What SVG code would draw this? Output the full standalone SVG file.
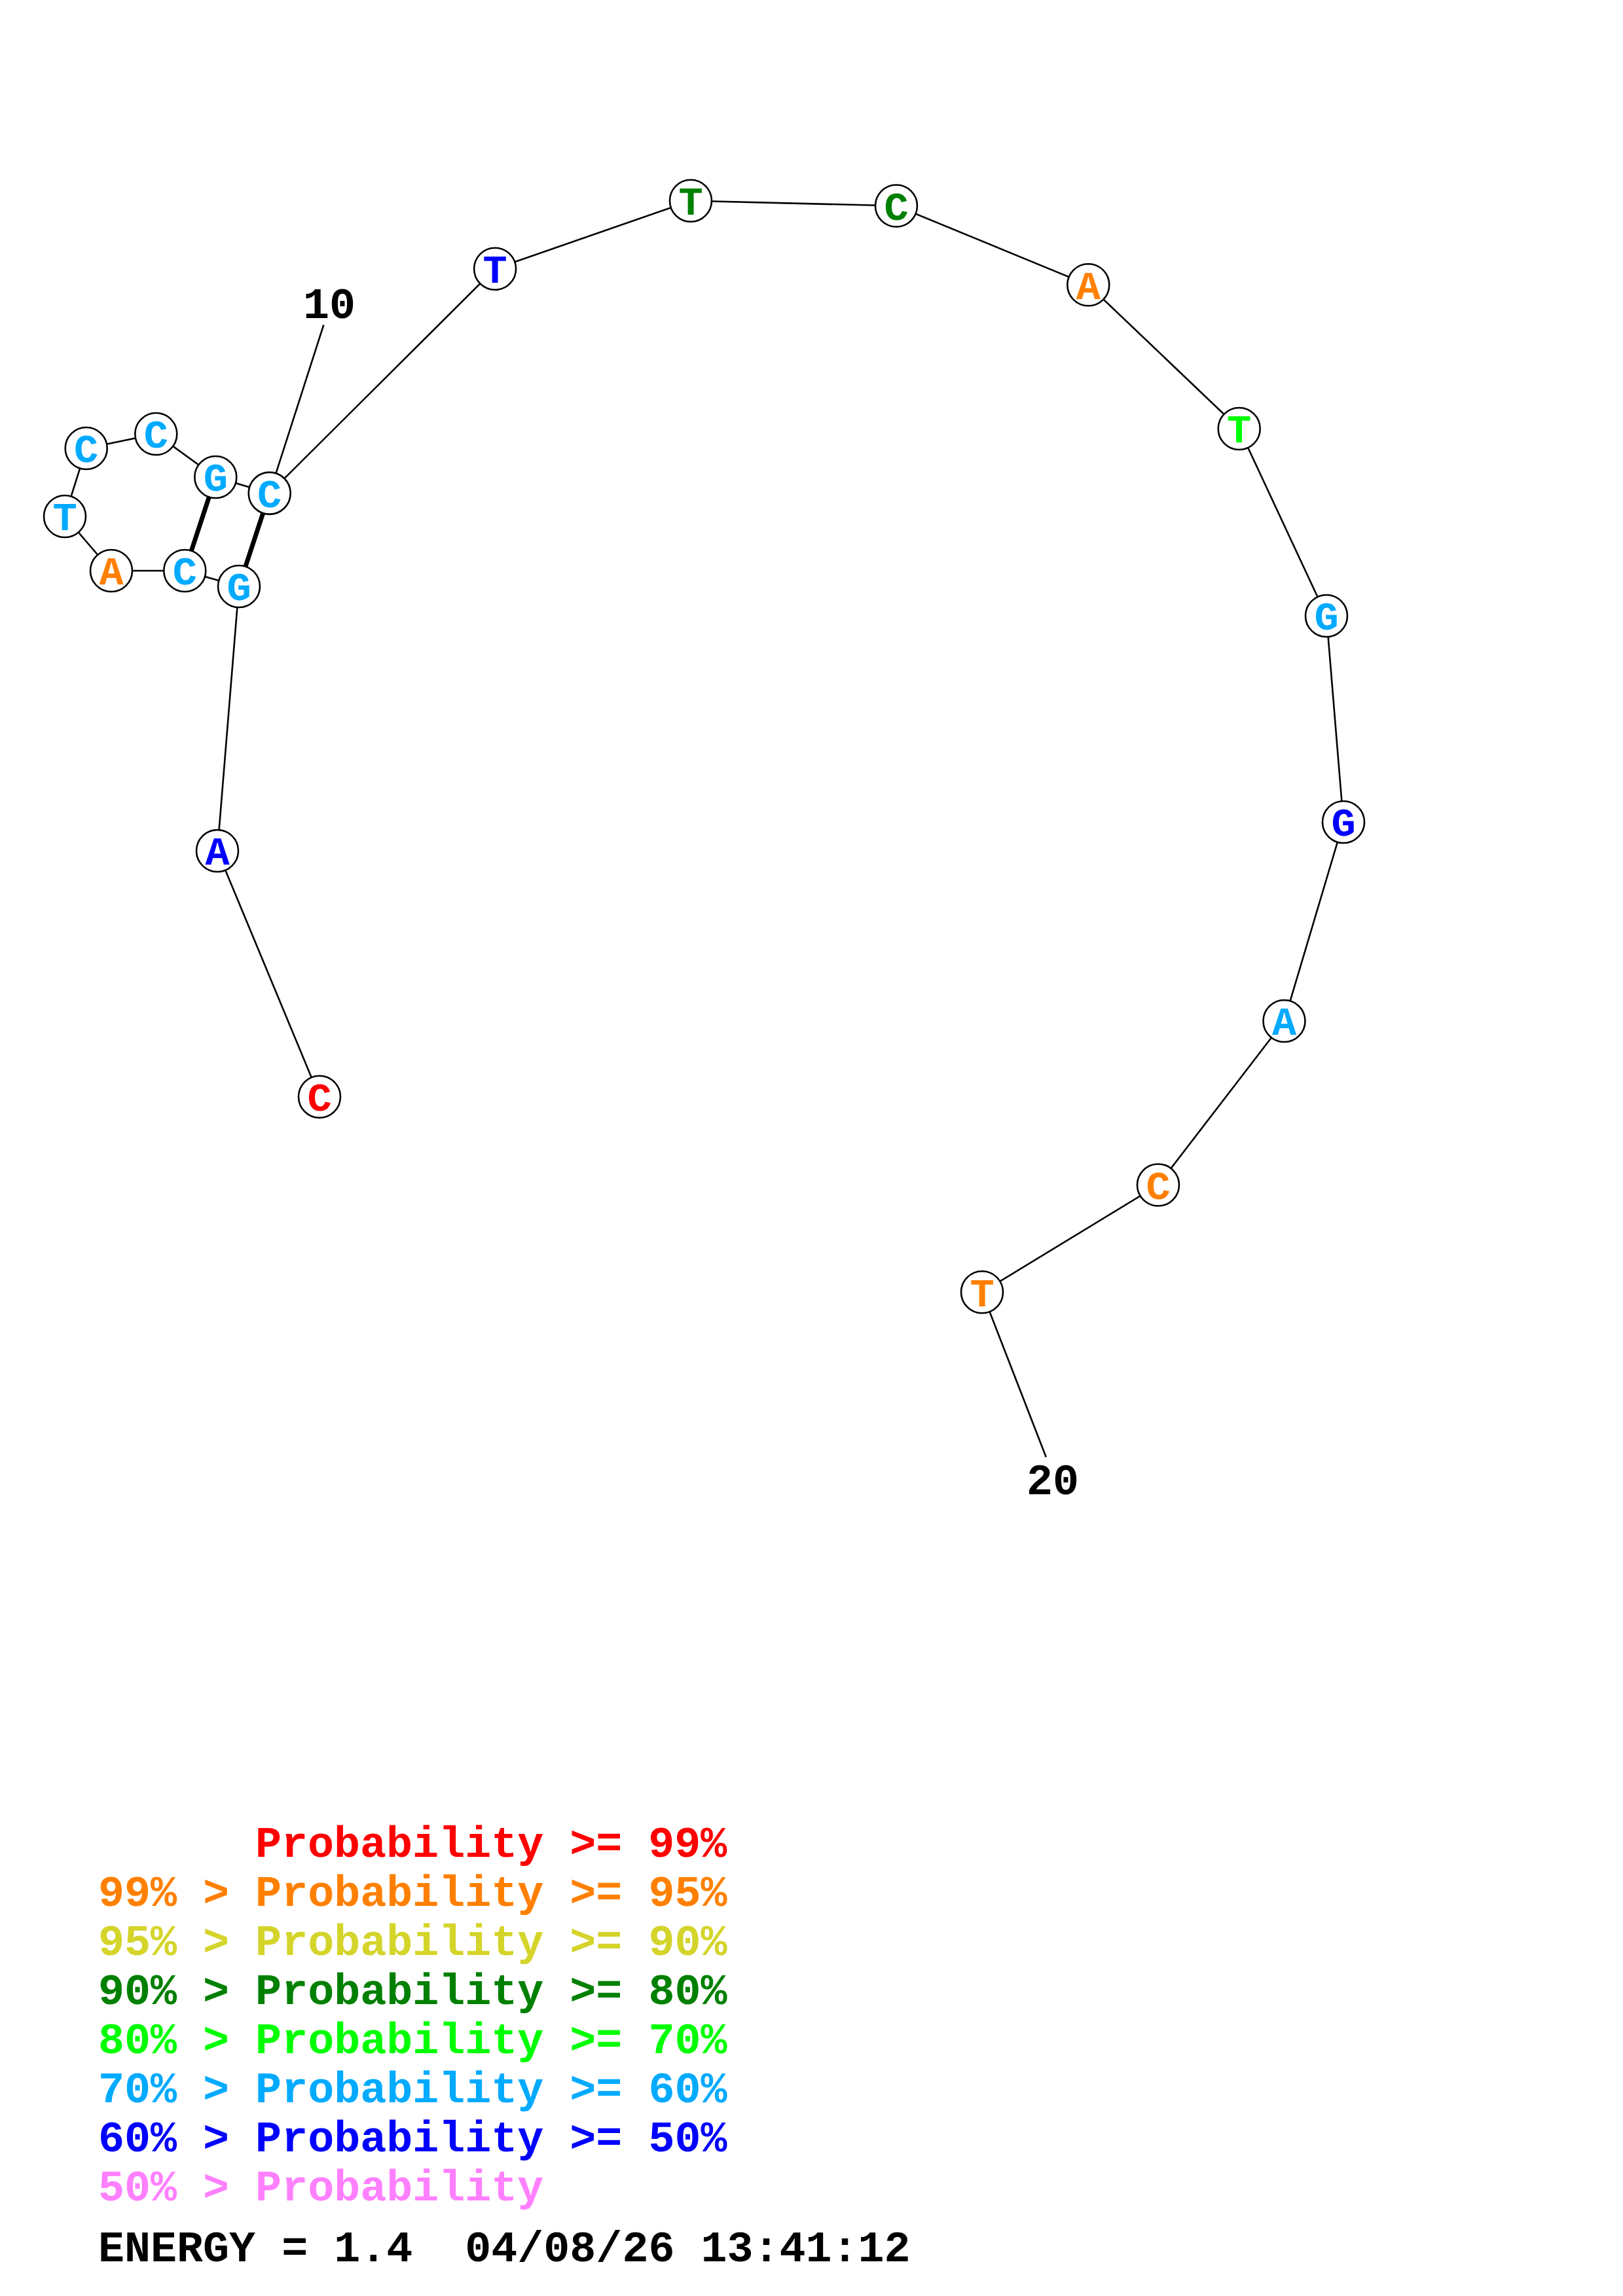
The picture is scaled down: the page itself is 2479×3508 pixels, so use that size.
<svg xmlns="http://www.w3.org/2000/svg" width="2479" height="3508" viewBox="0 0 2479 3508">
<style>
.bg{fill:#ffffff}
.ln{stroke:#000;stroke-width:2.6;fill:none}
.pair{stroke:#000;stroke-width:7;fill:none}
.nd circle{fill:#fff;stroke:#000;stroke-width:2.6}
.nd text{font-family:"Liberation Mono","Courier New",monospace;font-weight:bold;font-size:62px;text-anchor:middle}
.lbl{font-family:"Liberation Mono","Courier New",monospace;font-weight:bold;font-size:66.7px;fill:#000;text-anchor:middle}
.lg{font-family:"Liberation Mono","Courier New",monospace;font-weight:bold;font-size:66.7px}
.c99{fill:#ff0000}.c95{fill:#ff8000}.c90{fill:#d4d42a}.c80{fill:#008000}.c70{fill:#00ff00}.c60{fill:#00aaff}.c50{fill:#0000ff}.c0{fill:#ff80ff}
</style>
<rect class="bg" x="0" y="0" width="2479" height="3508"/>
<g id="connectors">
<polyline class="ln" points="488,1675.7 332,1300 365,896 282.3,872 170,872 99,789 131.7,685 238.3,663 329.3,729 411.7,753.6 756.1,410.7 1055,306.7 1369,314.5 1662.3,435.3 1892.7,655 2026,941 2052,1256 1961.5,1560 1769,1810.5 1500,1974.3"/>
<line class="pair" x1="329.3" y1="729" x2="282.3" y2="872"/>
<line class="pair" x1="411.7" y1="753.6" x2="365" y2="896"/>
<line class="ln" x1="494.3" y1="496.5" x2="411.7" y2="753.6"/>
<line class="ln" x1="1500" y1="1974.3" x2="1597.8" y2="2226.2"/>
</g>
<g id="n1" class="nd"><circle cx="488" cy="1675.7" r="32"/><text x="488" y="1697" class="c99">C</text></g>
<g id="n2" class="nd"><circle cx="332" cy="1300" r="32"/><text x="332" y="1321" class="c50">A</text></g>
<g id="n3" class="nd"><circle cx="365" cy="896" r="32"/><text x="365" y="917" class="c60">G</text></g>
<g id="n4" class="nd"><circle cx="282.3" cy="872" r="32"/><text x="282.3" y="893" class="c60">C</text></g>
<g id="n5" class="nd"><circle cx="170" cy="872" r="32"/><text x="170" y="893" class="c95">A</text></g>
<g id="n6" class="nd"><circle cx="99" cy="789" r="32"/><text x="99" y="810" class="c60">T</text></g>
<g id="n7" class="nd"><circle cx="131.7" cy="685" r="32"/><text x="131.7" y="706" class="c60">C</text></g>
<g id="n8" class="nd"><circle cx="238.3" cy="663" r="32"/><text x="238.3" y="684" class="c60">C</text></g>
<g id="n9" class="nd"><circle cx="329.3" cy="729" r="32"/><text x="329.3" y="750" class="c60">G</text></g>
<g id="n10" class="nd"><circle cx="411.7" cy="753.6" r="32"/><text x="411.7" y="775" class="c60">C</text></g>
<g id="n11" class="nd"><circle cx="756.1" cy="410.7" r="32"/><text x="756.1" y="432" class="c50">T</text></g>
<g id="n12" class="nd"><circle cx="1055" cy="306.7" r="32"/><text x="1055" y="328" class="c80">T</text></g>
<g id="n13" class="nd"><circle cx="1369" cy="314.5" r="32"/><text x="1369" y="336" class="c80">C</text></g>
<g id="n14" class="nd"><circle cx="1662.3" cy="435.3" r="32"/><text x="1662.3" y="457" class="c95">A</text></g>
<g id="n15" class="nd"><circle cx="1892.7" cy="655" r="32"/><text x="1892.7" y="676" class="c70">T</text></g>
<g id="n16" class="nd"><circle cx="2026" cy="941" r="32"/><text x="2026" y="962" class="c60">G</text></g>
<g id="n17" class="nd"><circle cx="2052" cy="1256" r="32"/><text x="2052" y="1277" class="c50">G</text></g>
<g id="n18" class="nd"><circle cx="1961.5" cy="1560" r="32"/><text x="1961.5" y="1581" class="c60">A</text></g>
<g id="n19" class="nd"><circle cx="1769" cy="1810.5" r="32"/><text x="1769" y="1832" class="c95">C</text></g>
<g id="n20" class="nd"><circle cx="1500" cy="1974.3" r="32"/><text x="1500" y="1996" class="c95">T</text></g>
<g id="labels">
<text class="lbl" x="503" y="486">10</text>
<text class="lbl" x="1608" y="2283">20</text>
</g>
<g id="legend" class="lg">
<text x="390" y="2837" class="c99">Probability &gt;= 99%</text>
<text x="150" y="2912" class="c95">99% &gt; Probability &gt;= 95%</text>
<text x="150" y="2987" class="c90">95% &gt; Probability &gt;= 90%</text>
<text x="150" y="3062" class="c80">90% &gt; Probability &gt;= 80%</text>
<text x="150" y="3137" class="c70">80% &gt; Probability &gt;= 70%</text>
<text x="150" y="3212" class="c60">70% &gt; Probability &gt;= 60%</text>
<text x="150" y="3287" class="c50">60% &gt; Probability &gt;= 50%</text>
<text x="150" y="3362" class="c0">50% &gt; Probability</text>
<text x="150" y="3455" fill="#000" xml:space="preserve">ENERGY = 1.4  04/08/26 13:41:12</text>
</g>
</svg>
